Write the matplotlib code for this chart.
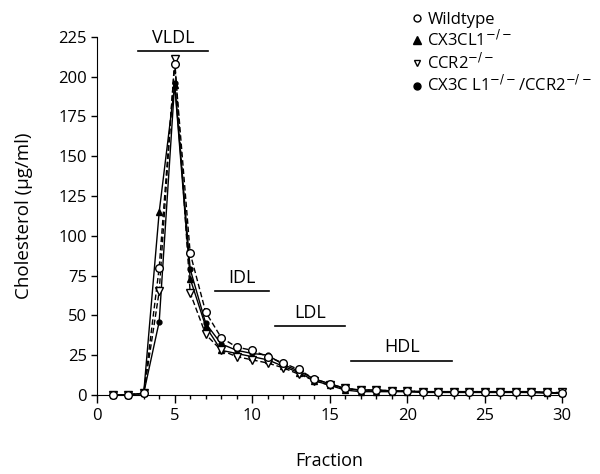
import numpy as np
import matplotlib
matplotlib.use('Agg')
import matplotlib.pyplot as plt
from matplotlib.lines import Line2D

plt.rcParams['font.family'] = ['Open Sans', 'DejaVu Sans']

fraction = list(range(1, 31))
wildtype = [0, 0, 1, 80, 208, 89, 52, 36, 30, 28, 24, 20, 16, 10, 7, 4, 3, 3, 2.5, 2.5,
            2, 2, 2, 2, 2, 2, 2, 2, 1.5, 1]
cx3cl1 = [0, 0, 1, 115, 195, 73, 43, 28, 26, 24, 22, 18, 14, 9, 6, 3, 2, 2, 2, 2,
          1.5, 1.5, 1.5, 1.5, 1.5, 1.5, 1.5, 1.5, 1, 1]
ccr2 = [0, 0, 1, 65, 211, 64, 38, 28, 24, 22, 20, 17, 13, 9, 6, 4, 3, 3, 2.5, 2.5,
        2, 2, 2, 2, 2, 2, 2, 2, 1.5, 1.5]
dko = [0, 0, 1, 46, 196, 79, 45, 32, 28, 26, 25, 19, 15, 10, 7, 4, 3, 3, 2.5, 2,
       2, 2, 2, 2, 2, 2, 2, 2, 1.5, 1]

# lipoprotein classes: (label, start fraction, end fraction, bar height)
classes = [('VLDL', 2.6, 7.15, 216),
           ('IDL', 7.6, 11.1, 65),
           ('LDL', 11.5, 16.0, 43),
           ('HDL', 16.4, 22.9, 21.5)]

fig = plt.figure(figsize=(6, 4.74), dpi=100)
ax = fig.add_axes([0.162, 0.167, 0.775, 0.755])

ax.plot(fraction, cx3cl1, '-', color='black', lw=1, marker='^', ms=4,
        mfc='black', mec='black', clip_on=False, zorder=3)
ax.plot(fraction, dko, '-', color='black', lw=1, marker='o', ms=3.5,
        mfc='black', mec='black', clip_on=False, zorder=3)
ax.plot(fraction, ccr2, '--', color='black', lw=1, dashes=(4, 2), marker='v', ms=5.5,
        mfc='white', mec='black', mew=1, clip_on=False, zorder=4)
ax.plot(fraction, wildtype, '--', color='black', lw=1, dashes=(4, 2), marker='o', ms=5.5,
        mfc='white', mec='black', mew=1, clip_on=False, zorder=5)

for name, x0, x1, h in classes:
    ax.plot([x0, x1], [h, h], color='black', lw=1.2, clip_on=False)
    ax.text((x0 + x1) / 2, h + 3, name, ha='center', va='bottom', fontsize=13)

ax.set_xlim(0, 30)
ax.set_ylim(0, 225)
ax.set_xticks(np.arange(0, 31, 5))
ax.set_xticks(np.arange(0, 31, 1), minor=True)
ax.set_yticks(np.arange(0, 226, 25))
ax.tick_params(axis='both', labelsize=12, width=1)
ax.tick_params(axis='x', which='major', length=6)
ax.tick_params(axis='x', which='minor', length=3, width=1)
ax.tick_params(axis='y', length=4)
ax.spines['top'].set_visible(False)
ax.spines['right'].set_visible(False)
ax.set_xlabel('Fraction', fontsize=13, labelpad=20)
ax.set_ylabel('Cholesterol (µg/ml)', fontsize=13.5, labelpad=18)

handles = [Line2D([], [], ls='none', marker='o', ms=5, mfc='white', mec='black'),
           Line2D([], [], ls='none', marker='^', ms=6, mfc='black', mec='black'),
           Line2D([], [], ls='none', marker='v', ms=5, mfc='white', mec='black'),
           Line2D([], [], ls='none', marker='o', ms=5, mfc='black', mec='black')]
labels = ['Wildtype', 'CX3CL1$^{-/-}$', 'CCR2$^{-/-}$', 'CX3C L1$^{-/-}$/CCR2$^{-/-}$']
fig.legend(handles, labels, loc='upper left', bbox_to_anchor=(0.668, 1.0),
           frameon=False, fontsize=12, handlelength=0.6, handletextpad=0.3,
           labelspacing=0.15, borderpad=0.2)

fig.savefig('out.png', dpi=100)
